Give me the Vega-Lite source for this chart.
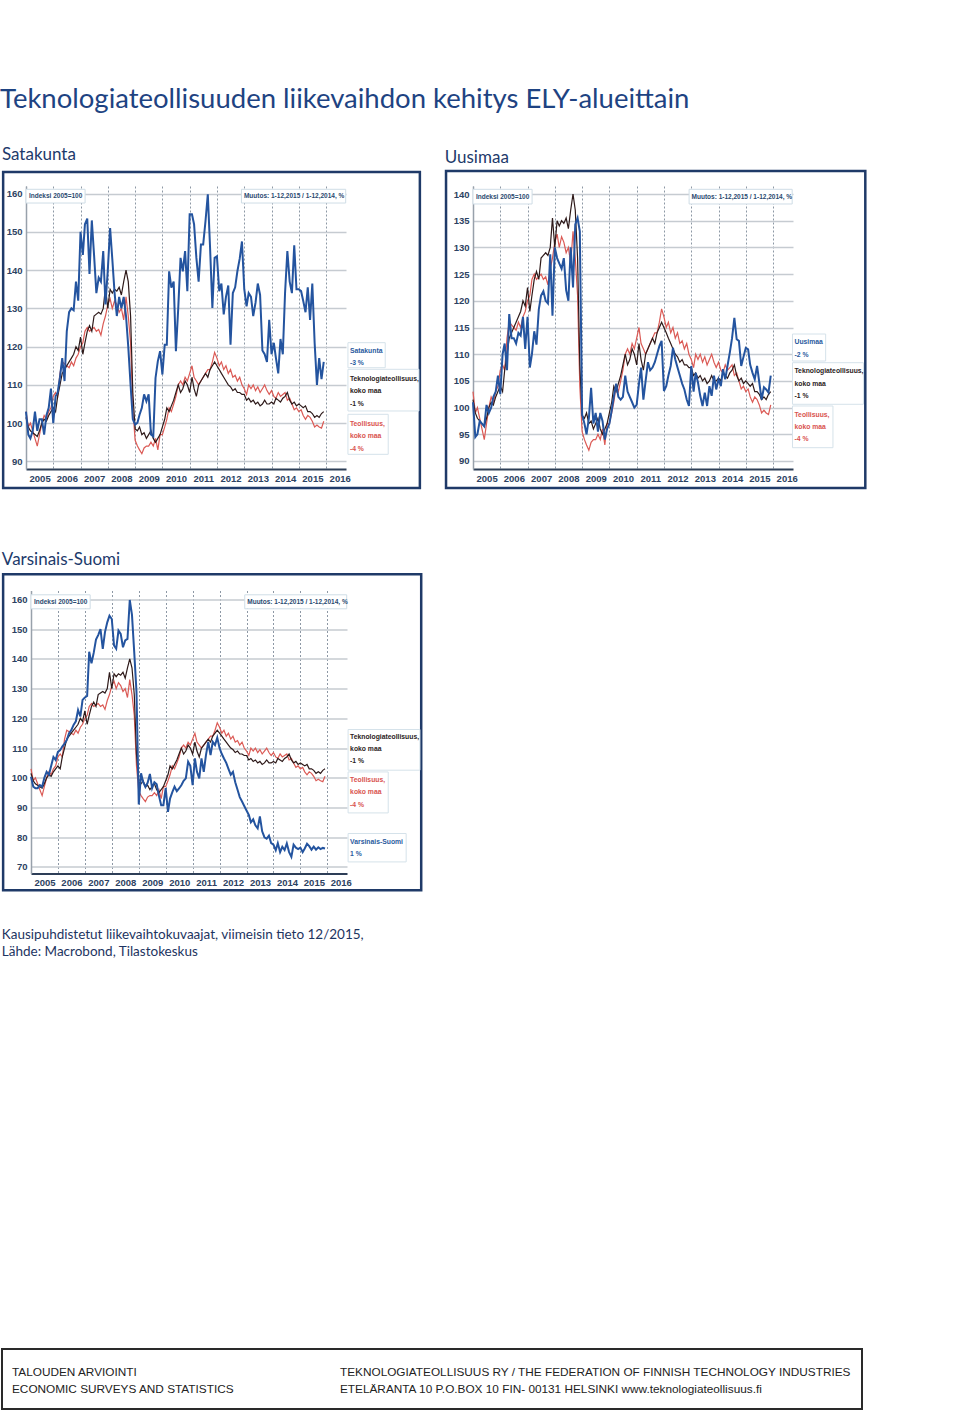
{
  "$schema": "https://vega.github.io/schema/vega-lite/v6.json",
  "background": "white",
  "padding": {"top": 86, "left": 0, "right": 0, "bottom": 0},
  "title": {"text": "Teknologiateollisuuden liikevaihdon kehitys ELY-alueittain", "anchor": "start", "font": "Lato", "fontSize": 27.5, "fontWeight": "normal", "color": "#1e4382", "baseline": "alphabetic", "offset": 10, "frame": "bounds"},
  "config": {
    "view": {"stroke": null},
    "axis": {"labelFont": "Liberation Sans", "labelFontSize": 9.5, "labelFontWeight": "bold", "labelColor": "#2c4262", "ticks": false, "labelPadding": 4, "grid": true, "labelOverlap": false},
    "axisX": {"gridDash": [2, 2], "gridColor": "#8d98a5", "gridWidth": 1, "domainColor": "#2d3e57", "domainWidth": 2, "labelFlush": false, "labelOverlap": false, "format": "%Y"},
    "axisY": {"gridColor": "#c6cbd1", "gridWidth": 1.5, "domainColor": "#98a1ab", "domainWidth": 1.5},
    "text": {"font": "Liberation Sans"}
  },
  "datasets": {
    "tek": [
      {"month":"2005-01","value":101.5},{"month":"2005-02","value":99},{"month":"2005-03","value":98},{"month":"2005-04","value":97.5},{"month":"2005-05","value":97},{"month":"2005-06","value":96.5},{"month":"2005-07","value":98},{"month":"2005-08","value":100},{"month":"2005-09","value":101},{"month":"2005-10","value":100.5},{"month":"2005-11","value":102},{"month":"2005-12","value":103},
      {"month":"2006-01","value":104},{"month":"2006-02","value":103},{"month":"2006-03","value":107},{"month":"2006-04","value":110},{"month":"2006-05","value":113},{"month":"2006-06","value":114},{"month":"2006-07","value":115},{"month":"2006-08","value":116},{"month":"2006-09","value":117},{"month":"2006-10","value":118},{"month":"2006-11","value":120},{"month":"2006-12","value":119},
      {"month":"2007-01","value":122.5},{"month":"2007-02","value":118},{"month":"2007-03","value":121},{"month":"2007-04","value":124},{"month":"2007-05","value":125.5},{"month":"2007-06","value":124},{"month":"2007-07","value":128},{"month":"2007-08","value":128.5},{"month":"2007-09","value":129},{"month":"2007-10","value":128.5},{"month":"2007-11","value":130},{"month":"2007-12","value":135.5},
      {"month":"2008-01","value":130},{"month":"2008-02","value":135},{"month":"2008-03","value":134},{"month":"2008-04","value":135},{"month":"2008-05","value":134.5},{"month":"2008-06","value":135.5},{"month":"2008-07","value":133.5},{"month":"2008-08","value":137},{"month":"2008-09","value":140},{"month":"2008-10","value":137},{"month":"2008-11","value":128},{"month":"2008-12","value":108},
      {"month":"2009-01","value":98.5},{"month":"2009-02","value":98},{"month":"2009-03","value":99},{"month":"2009-04","value":97},{"month":"2009-05","value":97.5},{"month":"2009-06","value":96},{"month":"2009-07","value":97},{"month":"2009-08","value":98},{"month":"2009-09","value":96},{"month":"2009-10","value":95},{"month":"2009-11","value":96},{"month":"2009-12","value":97},
      {"month":"2010-01","value":99},{"month":"2010-02","value":101},{"month":"2010-03","value":104},{"month":"2010-04","value":103},{"month":"2010-05","value":104.5},{"month":"2010-06","value":106},{"month":"2010-07","value":108},{"month":"2010-08","value":110},{"month":"2010-09","value":108},{"month":"2010-10","value":109},{"month":"2010-11","value":111},{"month":"2010-12","value":110},
      {"month":"2011-01","value":108},{"month":"2011-02","value":112},{"month":"2011-03","value":109},{"month":"2011-04","value":107},{"month":"2011-05","value":110},{"month":"2011-06","value":111},{"month":"2011-07","value":112},{"month":"2011-08","value":113},{"month":"2011-09","value":112},{"month":"2011-10","value":114},{"month":"2011-11","value":115},{"month":"2011-12","value":116},
      {"month":"2012-01","value":115},{"month":"2012-02","value":114},{"month":"2012-03","value":113},{"month":"2012-04","value":112},{"month":"2012-05","value":111},{"month":"2012-06","value":110},{"month":"2012-07","value":109.5},{"month":"2012-08","value":108.5},{"month":"2012-09","value":109},{"month":"2012-10","value":108},{"month":"2012-11","value":108},{"month":"2012-12","value":107.5},
      {"month":"2013-01","value":107.5},{"month":"2013-02","value":106},{"month":"2013-03","value":106.5},{"month":"2013-04","value":105.5},{"month":"2013-05","value":106},{"month":"2013-06","value":105},{"month":"2013-07","value":105.5},{"month":"2013-08","value":104.5},{"month":"2013-09","value":105},{"month":"2013-10","value":106},{"month":"2013-11","value":105},{"month":"2013-12","value":105},
      {"month":"2014-01","value":105.5},{"month":"2014-02","value":105},{"month":"2014-03","value":106.5},{"month":"2014-04","value":106},{"month":"2014-05","value":105.5},{"month":"2014-06","value":106.5},{"month":"2014-07","value":107},{"month":"2014-08","value":108},{"month":"2014-09","value":106},{"month":"2014-10","value":105},{"month":"2014-11","value":105.5},{"month":"2014-12","value":104.5},
      {"month":"2015-01","value":105},{"month":"2015-02","value":104.5},{"month":"2015-03","value":104},{"month":"2015-04","value":104.5},{"month":"2015-05","value":103},{"month":"2015-06","value":103},{"month":"2015-07","value":102.5},{"month":"2015-08","value":101.5},{"month":"2015-09","value":102},{"month":"2015-10","value":101.5},{"month":"2015-11","value":102.5},{"month":"2015-12","value":103}
    ],
    "teo": [
      {"month":"2005-01","value":103},{"month":"2005-02","value":99},{"month":"2005-03","value":100},{"month":"2005-04","value":98},{"month":"2005-05","value":96},{"month":"2005-06","value":94},{"month":"2005-07","value":97},{"month":"2005-08","value":100},{"month":"2005-09","value":102},{"month":"2005-10","value":101},{"month":"2005-11","value":103},{"month":"2005-12","value":104},
      {"month":"2006-01","value":107},{"month":"2006-02","value":108},{"month":"2006-03","value":107},{"month":"2006-04","value":113},{"month":"2006-05","value":116},{"month":"2006-06","value":115.5},{"month":"2006-07","value":115},{"month":"2006-08","value":114.5},{"month":"2006-09","value":116},{"month":"2006-10","value":115},{"month":"2006-11","value":117},{"month":"2006-12","value":118},
      {"month":"2007-01","value":120},{"month":"2007-02","value":121},{"month":"2007-03","value":124},{"month":"2007-04","value":125},{"month":"2007-05","value":124},{"month":"2007-06","value":124.5},{"month":"2007-07","value":125},{"month":"2007-08","value":124},{"month":"2007-09","value":124.5},{"month":"2007-10","value":123},{"month":"2007-11","value":126},{"month":"2007-12","value":128},
      {"month":"2008-01","value":131},{"month":"2008-02","value":132.5},{"month":"2008-03","value":130},{"month":"2008-04","value":132},{"month":"2008-05","value":131},{"month":"2008-06","value":129},{"month":"2008-07","value":130},{"month":"2008-08","value":127},{"month":"2008-09","value":133},{"month":"2008-10","value":128},{"month":"2008-11","value":121},{"month":"2008-12","value":104},
      {"month":"2009-01","value":95.5},{"month":"2009-02","value":94},{"month":"2009-03","value":93},{"month":"2009-04","value":92},{"month":"2009-05","value":93.5},{"month":"2009-06","value":94},{"month":"2009-07","value":94},{"month":"2009-08","value":95},{"month":"2009-09","value":94},{"month":"2009-10","value":96},{"month":"2009-11","value":93},{"month":"2009-12","value":97},
      {"month":"2010-01","value":97},{"month":"2010-02","value":99},{"month":"2010-03","value":101},{"month":"2010-04","value":104},{"month":"2010-05","value":103},{"month":"2010-06","value":105},{"month":"2010-07","value":107},{"month":"2010-08","value":110},{"month":"2010-09","value":111},{"month":"2010-10","value":110},{"month":"2010-11","value":112},{"month":"2010-12","value":111},
      {"month":"2011-01","value":113},{"month":"2011-02","value":115},{"month":"2011-03","value":112},{"month":"2011-04","value":111},{"month":"2011-05","value":110},{"month":"2011-06","value":111},{"month":"2011-07","value":112},{"month":"2011-08","value":113},{"month":"2011-09","value":114},{"month":"2011-10","value":114},{"month":"2011-11","value":116},{"month":"2011-12","value":118.5},
      {"month":"2012-01","value":117},{"month":"2012-02","value":115},{"month":"2012-03","value":116},{"month":"2012-04","value":114},{"month":"2012-05","value":115},{"month":"2012-06","value":113},{"month":"2012-07","value":114},{"month":"2012-08","value":112},{"month":"2012-09","value":112.5},{"month":"2012-10","value":111},{"month":"2012-11","value":112},{"month":"2012-12","value":110},
      {"month":"2013-01","value":109},{"month":"2013-02","value":107.5},{"month":"2013-03","value":110},{"month":"2013-04","value":109},{"month":"2013-05","value":110},{"month":"2013-06","value":108.5},{"month":"2013-07","value":109.5},{"month":"2013-08","value":108},{"month":"2013-09","value":109},{"month":"2013-10","value":110},{"month":"2013-11","value":108.5},{"month":"2013-12","value":107.5},
      {"month":"2014-01","value":108.5},{"month":"2014-02","value":107},{"month":"2014-03","value":106.5},{"month":"2014-04","value":108},{"month":"2014-05","value":107},{"month":"2014-06","value":107.5},{"month":"2014-07","value":108},{"month":"2014-08","value":106},{"month":"2014-09","value":106.5},{"month":"2014-10","value":105},{"month":"2014-11","value":103.5},{"month":"2014-12","value":104},
      {"month":"2015-01","value":103},{"month":"2015-02","value":103.5},{"month":"2015-03","value":102},{"month":"2015-04","value":101},{"month":"2015-05","value":102},{"month":"2015-06","value":101.5},{"month":"2015-07","value":100.5},{"month":"2015-08","value":99},{"month":"2015-09","value":99.5},{"month":"2015-10","value":99},{"month":"2015-11","value":98.7},{"month":"2015-12","value":100.5}
    ],
    "sat": [
      {"month":"2005-01","value":103},{"month":"2005-02","value":97},{"month":"2005-03","value":96},{"month":"2005-04","value":98},{"month":"2005-05","value":103},{"month":"2005-06","value":98},{"month":"2005-07","value":101},{"month":"2005-08","value":101},{"month":"2005-09","value":97},{"month":"2005-10","value":102},{"month":"2005-11","value":104},{"month":"2005-12","value":109},
      {"month":"2006-01","value":100},{"month":"2006-02","value":107},{"month":"2006-03","value":108},{"month":"2006-04","value":112},{"month":"2006-05","value":117},{"month":"2006-06","value":111},{"month":"2006-07","value":124},{"month":"2006-08","value":129},{"month":"2006-09","value":130},{"month":"2006-10","value":129.5},{"month":"2006-11","value":137},{"month":"2006-12","value":132},
      {"month":"2007-01","value":150},{"month":"2007-02","value":144},{"month":"2007-03","value":152},{"month":"2007-04","value":153.5},{"month":"2007-05","value":139},{"month":"2007-06","value":153},{"month":"2007-07","value":144},{"month":"2007-08","value":134},{"month":"2007-09","value":138},{"month":"2007-10","value":137},{"month":"2007-11","value":145},{"month":"2007-12","value":131},
      {"month":"2008-01","value":140},{"month":"2008-02","value":151},{"month":"2008-03","value":143},{"month":"2008-04","value":134},{"month":"2008-05","value":128},{"month":"2008-06","value":133},{"month":"2008-07","value":130},{"month":"2008-08","value":133},{"month":"2008-09","value":128},{"month":"2008-10","value":120},{"month":"2008-11","value":110},{"month":"2008-12","value":101},
      {"month":"2009-01","value":99.6},{"month":"2009-02","value":100.1},{"month":"2009-03","value":102.2},{"month":"2009-04","value":104},{"month":"2009-05","value":107.5},{"month":"2009-06","value":105.7},{"month":"2009-07","value":107.5},{"month":"2009-08","value":97},{"month":"2009-09","value":96.5},{"month":"2009-10","value":111.8},{"month":"2009-11","value":116.2},{"month":"2009-12","value":118.8},
      {"month":"2010-01","value":112.7},{"month":"2010-02","value":120.5},{"month":"2010-03","value":120.5},{"month":"2010-04","value":139.7},{"month":"2010-05","value":135.4},{"month":"2010-06","value":137},{"month":"2010-07","value":118.8},{"month":"2010-08","value":130},{"month":"2010-09","value":143.2},{"month":"2010-10","value":139.7},{"month":"2010-11","value":145},{"month":"2010-12","value":134.5},
      {"month":"2011-01","value":154.6},{"month":"2011-02","value":154.6},{"month":"2011-03","value":152},{"month":"2011-04","value":143.2},{"month":"2011-05","value":137},{"month":"2011-06","value":146.7},{"month":"2011-07","value":146.7},{"month":"2011-08","value":152.8},{"month":"2011-09","value":159.8},{"month":"2011-10","value":146},{"month":"2011-11","value":130.1},{"month":"2011-12","value":143.2},
      {"month":"2012-01","value":143.6},{"month":"2012-02","value":134.5},{"month":"2012-03","value":136.5},{"month":"2012-04","value":128.4},{"month":"2012-05","value":133},{"month":"2012-06","value":136},{"month":"2012-07","value":120.5},{"month":"2012-08","value":134},{"month":"2012-09","value":135.5},{"month":"2012-10","value":139.7},{"month":"2012-11","value":143},{"month":"2012-12","value":147.5},
      {"month":"2013-01","value":135},{"month":"2013-02","value":130.5},{"month":"2013-03","value":134},{"month":"2013-04","value":133},{"month":"2013-05","value":128},{"month":"2013-06","value":131.5},{"month":"2013-07","value":136.5},{"month":"2013-08","value":133.5},{"month":"2013-09","value":119},{"month":"2013-10","value":118},{"month":"2013-11","value":116},{"month":"2013-12","value":127},
      {"month":"2014-01","value":118},{"month":"2014-02","value":121},{"month":"2014-03","value":117},{"month":"2014-04","value":113},{"month":"2014-05","value":122},{"month":"2014-06","value":118},{"month":"2014-07","value":134},{"month":"2014-08","value":145},{"month":"2014-09","value":137},{"month":"2014-10","value":134},{"month":"2014-11","value":146.5},{"month":"2014-12","value":135},
      {"month":"2015-01","value":135},{"month":"2015-02","value":134.5},{"month":"2015-03","value":132},{"month":"2015-04","value":129},{"month":"2015-05","value":135.5},{"month":"2015-06","value":127},{"month":"2015-07","value":136.5},{"month":"2015-08","value":121},{"month":"2015-09","value":110},{"month":"2015-10","value":117},{"month":"2015-11","value":111.5},{"month":"2015-12","value":116}
    ],
    "uus": [
      {"month":"2005-01","value":101},{"month":"2005-02","value":94.5},{"month":"2005-03","value":95},{"month":"2005-04","value":97.5},{"month":"2005-05","value":97},{"month":"2005-06","value":96.5},{"month":"2005-07","value":100.5},{"month":"2005-08","value":99},{"month":"2005-09","value":100},{"month":"2005-10","value":102},{"month":"2005-11","value":103},{"month":"2005-12","value":106},
      {"month":"2006-01","value":102.5},{"month":"2006-02","value":110},{"month":"2006-03","value":112},{"month":"2006-04","value":107},{"month":"2006-05","value":117.5},{"month":"2006-06","value":113},{"month":"2006-07","value":113},{"month":"2006-08","value":112},{"month":"2006-09","value":114},{"month":"2006-10","value":113.5},{"month":"2006-11","value":117},{"month":"2006-12","value":111},
      {"month":"2007-01","value":117},{"month":"2007-02","value":107.5},{"month":"2007-03","value":110},{"month":"2007-04","value":114.3},{"month":"2007-05","value":111.8},{"month":"2007-06","value":118.4},{"month":"2007-07","value":121},{"month":"2007-08","value":121.8},{"month":"2007-09","value":120},{"month":"2007-10","value":119.5},{"month":"2007-11","value":128.7},{"month":"2007-12","value":117.2},
      {"month":"2008-01","value":130},{"month":"2008-02","value":128},{"month":"2008-03","value":127},{"month":"2008-04","value":126},{"month":"2008-05","value":128},{"month":"2008-06","value":122},{"month":"2008-07","value":120},{"month":"2008-08","value":130},{"month":"2008-09","value":122.5},{"month":"2008-10","value":134.3},{"month":"2008-11","value":135.5},{"month":"2008-12","value":133},
      {"month":"2009-01","value":98.7},{"month":"2009-02","value":97},{"month":"2009-03","value":95},{"month":"2009-04","value":98},{"month":"2009-05","value":103.7},{"month":"2009-06","value":97},{"month":"2009-07","value":99},{"month":"2009-08","value":95.5},{"month":"2009-09","value":99},{"month":"2009-10","value":97.5},{"month":"2009-11","value":94},{"month":"2009-12","value":96},
      {"month":"2010-01","value":97},{"month":"2010-02","value":99.5},{"month":"2010-03","value":102},{"month":"2010-04","value":104.5},{"month":"2010-05","value":102},{"month":"2010-06","value":101.5},{"month":"2010-07","value":102},{"month":"2010-08","value":106},{"month":"2010-09","value":103},{"month":"2010-10","value":102},{"month":"2010-11","value":101},{"month":"2010-12","value":100},
      {"month":"2011-01","value":100.5},{"month":"2011-02","value":104.5},{"month":"2011-03","value":107.5},{"month":"2011-04","value":101.5},{"month":"2011-05","value":105},{"month":"2011-06","value":108.5},{"month":"2011-07","value":107},{"month":"2011-08","value":107.5},{"month":"2011-09","value":108.5},{"month":"2011-10","value":110},{"month":"2011-11","value":111.5},{"month":"2011-12","value":112.5},
      {"month":"2012-01","value":103.1},{"month":"2012-02","value":104},{"month":"2012-03","value":106},{"month":"2012-04","value":107.8},{"month":"2012-05","value":111.2},{"month":"2012-06","value":109},{"month":"2012-07","value":107.5},{"month":"2012-08","value":106},{"month":"2012-09","value":104.5},{"month":"2012-10","value":103.4},{"month":"2012-11","value":101.5},{"month":"2012-12","value":100.3},
      {"month":"2013-01","value":107.8},{"month":"2013-02","value":103},{"month":"2013-03","value":106.5},{"month":"2013-04","value":104.7},{"month":"2013-05","value":102.2},{"month":"2013-06","value":100.3},{"month":"2013-07","value":102.8},{"month":"2013-08","value":100.3},{"month":"2013-09","value":104},{"month":"2013-10","value":102.2},{"month":"2013-11","value":106},{"month":"2013-12","value":103.4},
      {"month":"2014-01","value":105.3},{"month":"2014-02","value":104},{"month":"2014-03","value":107.2},{"month":"2014-04","value":105.3},{"month":"2014-05","value":107.8},{"month":"2014-06","value":110.3},{"month":"2014-07","value":113},{"month":"2014-08","value":116.8},{"month":"2014-09","value":112.8},{"month":"2014-10","value":112.5},{"month":"2014-11","value":107.8},{"month":"2014-12","value":109.5},
      {"month":"2015-01","value":111.2},{"month":"2015-02","value":110.9},{"month":"2015-03","value":108},{"month":"2015-04","value":106.5},{"month":"2015-05","value":105.3},{"month":"2015-06","value":107.8},{"month":"2015-07","value":104.7},{"month":"2015-08","value":101.5},{"month":"2015-09","value":103.8},{"month":"2015-10","value":103.4},{"month":"2015-11","value":102.8},{"month":"2015-12","value":106}
    ],
    "vs": [
      {"month":"2005-01","value":100.3},{"month":"2005-02","value":97},{"month":"2005-03","value":96.5},{"month":"2005-04","value":96.5},{"month":"2005-05","value":97.5},{"month":"2005-06","value":97},{"month":"2005-07","value":100},{"month":"2005-08","value":102},{"month":"2005-09","value":101},{"month":"2005-10","value":104},{"month":"2005-11","value":107},{"month":"2005-12","value":106},
      {"month":"2006-01","value":108.7},{"month":"2006-02","value":109.3},{"month":"2006-03","value":110.5},{"month":"2006-04","value":111.5},{"month":"2006-05","value":112.7},{"month":"2006-06","value":115},{"month":"2006-07","value":116},{"month":"2006-08","value":117.8},{"month":"2006-09","value":119},{"month":"2006-10","value":122.8},{"month":"2006-11","value":120.6},{"month":"2006-12","value":126.2},
      {"month":"2007-01","value":127},{"month":"2007-02","value":127.5},{"month":"2007-03","value":142.4},{"month":"2007-04","value":138.5},{"month":"2007-05","value":142},{"month":"2007-06","value":146.5},{"month":"2007-07","value":148},{"month":"2007-08","value":150},{"month":"2007-09","value":143.4},{"month":"2007-10","value":149},{"month":"2007-11","value":152.3},{"month":"2007-12","value":154.5},
      {"month":"2008-01","value":153.4},{"month":"2008-02","value":144.5},{"month":"2008-03","value":143.4},{"month":"2008-04","value":149.5},{"month":"2008-05","value":148.4},{"month":"2008-06","value":143.9},{"month":"2008-07","value":146.2},{"month":"2008-08","value":146.7},{"month":"2008-09","value":159.8},{"month":"2008-10","value":154.8},{"month":"2008-11","value":142},{"month":"2008-12","value":129},
      {"month":"2009-01","value":91},{"month":"2009-02","value":101.5},{"month":"2009-03","value":98.6},{"month":"2009-04","value":96.9},{"month":"2009-05","value":98.3},{"month":"2009-06","value":101.3},{"month":"2009-07","value":96.5},{"month":"2009-08","value":98.5},{"month":"2009-09","value":97.8},{"month":"2009-10","value":94},{"month":"2009-11","value":90.8},{"month":"2009-12","value":90.8},
      {"month":"2010-01","value":96.5},{"month":"2010-02","value":88.5},{"month":"2010-03","value":93},{"month":"2010-04","value":95.2},{"month":"2010-05","value":97},{"month":"2010-06","value":95.5},{"month":"2010-07","value":96.4},{"month":"2010-08","value":97.5},{"month":"2010-09","value":99},{"month":"2010-10","value":99.8},{"month":"2010-11","value":105.4},{"month":"2010-12","value":104},
      {"month":"2011-01","value":97.5},{"month":"2011-02","value":106.5},{"month":"2011-03","value":102},{"month":"2011-04","value":99.8},{"month":"2011-05","value":106.5},{"month":"2011-06","value":102},{"month":"2011-07","value":107.6},{"month":"2011-08","value":112.1},{"month":"2011-09","value":107.6},{"month":"2011-10","value":112.1},{"month":"2011-11","value":111},{"month":"2011-12","value":113.5},
      {"month":"2012-01","value":110},{"month":"2012-02","value":108},{"month":"2012-03","value":106.5},{"month":"2012-04","value":105},{"month":"2012-05","value":103},{"month":"2012-06","value":101},{"month":"2012-07","value":102},{"month":"2012-08","value":98.5},{"month":"2012-09","value":96},{"month":"2012-10","value":93.5},{"month":"2012-11","value":92},{"month":"2012-12","value":90.5},
      {"month":"2013-01","value":89},{"month":"2013-02","value":87.5},{"month":"2013-03","value":85},{"month":"2013-04","value":86},{"month":"2013-05","value":84},{"month":"2013-06","value":83},{"month":"2013-07","value":87},{"month":"2013-08","value":82},{"month":"2013-09","value":80},{"month":"2013-10","value":79.5},{"month":"2013-11","value":80.5},{"month":"2013-12","value":78},
      {"month":"2014-01","value":77.5},{"month":"2014-02","value":75.6},{"month":"2014-03","value":78},{"month":"2014-04","value":75},{"month":"2014-05","value":76.8},{"month":"2014-06","value":75.7},{"month":"2014-07","value":77.9},{"month":"2014-08","value":75},{"month":"2014-09","value":73.4},{"month":"2014-10","value":77.5},{"month":"2014-11","value":76.5},{"month":"2014-12","value":76},
      {"month":"2015-01","value":76.5},{"month":"2015-02","value":75},{"month":"2015-03","value":76.2},{"month":"2015-04","value":77.8},{"month":"2015-05","value":77},{"month":"2015-06","value":75.8},{"month":"2015-07","value":76.8},{"month":"2015-08","value":75.8},{"month":"2015-09","value":76.6},{"month":"2015-10","value":76},{"month":"2015-11","value":76.4},{"month":"2015-12","value":76.2}
    ]
  },
  "spacing": 389,
  "vconcat": [
    {
      "spacing": 60.5,
      "vconcat": [
        {
          "spacing": 0,
          "hconcat": [
            {"width": 1, "height": 1, "data": {"values": []}, "mark": {"type": "point"}},
            {
              "spacing": 22,
              "hconcat": [
                {
                  "width": 320, "height": 283,
                  "title": {"text": "Satakunta", "anchor": "start", "font": "Lato", "fontSize": 17, "fontWeight": "normal", "color": "#1d3a6b", "baseline": "alphabetic", "offset": -6},
                  "layer": [
                    {"data": {"values": [{}]}, "mark": {"type": "rect", "filled": false, "stroke": "#1f3a68", "strokeWidth": 2.5},
                     "encoding": {"x": {"datum": {"year": 2004, "month": 3, "date": 1}, "type": "temporal", "title": null,
                                        "scale": {"domain": [{"year": 2005, "month": 1, "date": 1}, {"year": 2016, "month": 9, "date": 24}]}},
                                  "x2": {"datum": {"year": 2019, "month": 6, "date": 10}},
                                  "y": {"datum": 165.67, "type": "quantitative", "title": null, "scale": {"domain": [88, 162], "nice": false, "zero": false}},
                                  "y2": {"datum": 83.03}}},
                    {"data": {"values": [{"label": "Indeksi 2005=100"}]}, "layer": [
                      {"mark": {"type": "rect", "fill": "white", "stroke": "#cfdde6", "strokeWidth": 1},
                       "encoding": {"x": {"datum": {"year": 2005, "month": 1, "date": 1}, "type": "temporal", "title": null}, "x2": {"datum": {"year": 2007, "month": 3, "date": 3}}, "y": {"datum": 161.14, "type": "quantitative", "title": null}, "y2": {"datum": 157.55}}},
                      {"mark": {"type": "text", "align": "left", "baseline": "middle", "dx": 3, "fontSize": 6.5, "fontWeight": "bold", "color": "#2b4a70"},
                       "encoding": {"x": {"datum": {"year": 2005, "month": 1, "date": 1}, "type": "temporal", "title": null}, "y": {"datum": 159.35, "type": "quantitative", "title": null}, "text": {"field": "label"}}}
                    ]},
                    {"data": {"values": [{"label": "Muutos: 1-12,2015 / 1-12,2014, %"}]}, "layer": [
                      {"mark": {"type": "rect", "fill": "white", "stroke": "#cfdde6", "strokeWidth": 1},
                       "encoding": {"x": {"datum": {"year": 2012, "month": 11, "date": 24}, "type": "temporal", "title": null}, "x2": {"datum": {"year": 2016, "month": 9, "date": 20}}, "y": {"datum": 161.14, "type": "quantitative", "title": null}, "y2": {"datum": 157.55}}},
                      {"mark": {"type": "text", "align": "left", "baseline": "middle", "dx": 2.5, "fontSize": 6.5, "fontWeight": "bold", "color": "#2b4a70"},
                       "encoding": {"x": {"datum": {"year": 2012, "month": 11, "date": 24}, "type": "temporal", "title": null}, "y": {"datum": 159.35, "type": "quantitative", "title": null}, "text": {"field": "label"}}}
                    ]},
                    {"data": {"values": [{"label": "Satakunta\n-3 %"}]}, "layer": [
                      {"mark": {"type": "rect", "fill": "white", "stroke": "#d5e2ea", "strokeWidth": 1},
                       "encoding": {"x": {"datum": {"year": 2016, "month": 10, "date": 20}, "type": "temporal", "title": null}, "x2": {"datum": {"year": 2018, "month": 3, "date": 3}}, "y": {"datum": 121.03, "type": "quantitative", "title": null}, "y2": {"datum": 114.48}}},
                      {"mark": {"type": "text", "align": "left", "baseline": "alphabetic", "dx": 2, "lineBreak": "\n", "lineHeight": 12.3, "fontSize": 6.8, "fontWeight": "bold", "color": "#2a5a9e"},
                       "encoding": {"x": {"datum": {"year": 2016, "month": 10, "date": 20}, "type": "temporal", "title": null}, "y": {"datum": 118.41, "type": "quantitative", "title": null}, "text": {"field": "label"}}}
                    ]},
                    {"data": {"values": [{"label": "Teknologiateollisuus,\nkoko maa\n-1 %"}]}, "layer": [
                      {"mark": {"type": "rect", "fill": "white", "stroke": "#d5e2ea", "strokeWidth": 1},
                       "encoding": {"x": {"datum": {"year": 2016, "month": 10, "date": 20}, "type": "temporal", "title": null}, "x2": {"datum": {"year": 2019, "month": 5, "date": 28}}, "y": {"datum": 114.07, "type": "quantitative", "title": null}, "y2": {"datum": 103.17}}},
                      {"mark": {"type": "text", "align": "left", "baseline": "alphabetic", "dx": 2, "lineBreak": "\n", "lineHeight": 12.3, "fontSize": 6.8, "fontWeight": "bold", "color": "#2b1c1c"},
                       "encoding": {"x": {"datum": {"year": 2016, "month": 10, "date": 20}, "type": "temporal", "title": null}, "y": {"datum": 111.01, "type": "quantitative", "title": null}, "text": {"field": "label"}}}
                    ]},
                    {"data": {"values": [{"label": "Teollisuus,\nkoko maa\n-4 %"}]}, "layer": [
                      {"mark": {"type": "rect", "fill": "white", "stroke": "#d5e2ea", "strokeWidth": 1},
                       "encoding": {"x": {"datum": {"year": 2016, "month": 10, "date": 20}, "type": "temporal", "title": null}, "x2": {"datum": {"year": 2018, "month": 4, "date": 12}}, "y": {"datum": 102.3, "type": "quantitative", "title": null}, "y2": {"datum": 91.84}}},
                      {"mark": {"type": "text", "align": "left", "baseline": "alphabetic", "dx": 2, "lineBreak": "\n", "lineHeight": 12.3, "fontSize": 6.8, "fontWeight": "bold", "color": "#d9534f"},
                       "encoding": {"x": {"datum": {"year": 2016, "month": 10, "date": 20}, "type": "temporal", "title": null}, "y": {"datum": 99.24, "type": "quantitative", "title": null}, "text": {"field": "label"}}}
                    ]},
                    {"data": {"name": "teo"}, "mark": {"type": "line", "color": "#db5a55", "strokeWidth": 1.2},
                     "encoding": {"x": {"field": "month", "type": "temporal", "title": null, "axis": {"values": [{"year":2005,"month":1,"date":1},{"year":2006,"month":1,"date":1},{"year":2007,"month":1,"date":1},{"year":2008,"month":1,"date":1},{"year":2009,"month":1,"date":1},{"year":2010,"month":1,"date":1},{"year":2011,"month":1,"date":1},{"year":2012,"month":1,"date":1},{"year":2013,"month":1,"date":1},{"year":2014,"month":1,"date":1},{"year":2015,"month":1,"date":1},{"year":2016,"month":1,"date":1}], "tickCount": {"interval": "year", "step": 1}, "labelOffset": 13.6, "labelOverlap": false}},
                                  "y": {"field": "value", "type": "quantitative", "title": null, "axis": {"values": [90, 100, 110, 120, 130, 140, 150, 160], "tickCount": 8, "labelOverlap": false}}}},
                    {"data": {"name": "tek"}, "mark": {"type": "line", "color": "#2e1a1a", "strokeWidth": 1.2},
                     "encoding": {"x": {"field": "month", "type": "temporal", "title": null, "axis": {"values": [{"year":2005,"month":1,"date":1},{"year":2006,"month":1,"date":1},{"year":2007,"month":1,"date":1},{"year":2008,"month":1,"date":1},{"year":2009,"month":1,"date":1},{"year":2010,"month":1,"date":1},{"year":2011,"month":1,"date":1},{"year":2012,"month":1,"date":1},{"year":2013,"month":1,"date":1},{"year":2014,"month":1,"date":1},{"year":2015,"month":1,"date":1},{"year":2016,"month":1,"date":1}], "tickCount": {"interval": "year", "step": 1}, "labelOffset": 13.6, "labelOverlap": false}},
                                  "y": {"field": "value", "type": "quantitative", "title": null, "axis": {"values": [90, 100, 110, 120, 130, 140, 150, 160], "tickCount": 8, "labelOverlap": false}}}},
                    {"data": {"name": "sat"}, "mark": {"type": "line", "color": "#24549f", "strokeWidth": 2},
                     "encoding": {"x": {"field": "month", "type": "temporal", "title": null, "axis": {"values": [{"year":2005,"month":1,"date":1},{"year":2006,"month":1,"date":1},{"year":2007,"month":1,"date":1},{"year":2008,"month":1,"date":1},{"year":2009,"month":1,"date":1},{"year":2010,"month":1,"date":1},{"year":2011,"month":1,"date":1},{"year":2012,"month":1,"date":1},{"year":2013,"month":1,"date":1},{"year":2014,"month":1,"date":1},{"year":2015,"month":1,"date":1},{"year":2016,"month":1,"date":1}], "tickCount": {"interval": "year", "step": 1}, "labelOffset": 13.6, "labelOverlap": false}},
                                  "y": {"field": "value", "type": "quantitative", "title": null, "axis": {"values": [90, 100, 110, 120, 130, 140, 150, 160], "tickCount": 8, "labelOverlap": false}}}}
                  ]
                },
                {
                  "width": 320, "height": 283,
                  "title": {"text": "Uusimaa", "anchor": "start", "font": "Lato", "fontSize": 17, "fontWeight": "normal", "color": "#1d3a6b", "baseline": "alphabetic", "offset": -10},
                  "layer": [
                    {"data": {"values": [{}]}, "mark": {"type": "rect", "filled": false, "stroke": "#1f3a68", "strokeWidth": 2.5},
                     "encoding": {"x": {"datum": {"year": 2004, "month": 1, "date": 6}, "type": "temporal", "title": null,
                                        "scale": {"domain": [{"year": 2005, "month": 1, "date": 1}, {"year": 2016, "month": 9, "date": 24}]}},
                                  "x2": {"datum": {"year": 2019, "month": 5, "date": 20}},
                                  "y": {"datum": 144.3, "type": "quantitative", "title": null, "scale": {"domain": [88.5, 141.5], "nice": false, "zero": false}},
                                  "y2": {"datum": 84.94}}},
                    {"data": {"values": [{"label": "Indeksi 2005=100"}]}, "layer": [
                      {"mark": {"type": "rect", "fill": "white", "stroke": "#cfdde6", "strokeWidth": 1},
                       "encoding": {"x": {"datum": {"year": 2005, "month": 1, "date": 1}, "type": "temporal", "title": null}, "x2": {"datum": {"year": 2007, "month": 3, "date": 3}}, "y": {"datum": 140.88, "type": "quantitative", "title": null}, "y2": {"datum": 138.13}}},
                      {"mark": {"type": "text", "align": "left", "baseline": "middle", "dx": 3, "fontSize": 6.5, "fontWeight": "bold", "color": "#2b4a70"},
                       "encoding": {"x": {"datum": {"year": 2005, "month": 1, "date": 1}, "type": "temporal", "title": null}, "y": {"datum": 139.5, "type": "quantitative", "title": null}, "text": {"field": "label"}}}
                    ]},
                    {"data": {"values": [{"label": "Muutos: 1-12,2015 / 1-12,2014, %"}]}, "layer": [
                      {"mark": {"type": "rect", "fill": "white", "stroke": "#cfdde6", "strokeWidth": 1},
                       "encoding": {"x": {"datum": {"year": 2012, "month": 12, "date": 3}, "type": "temporal", "title": null}, "x2": {"datum": {"year": 2016, "month": 9, "date": 13}}, "y": {"datum": 140.88, "type": "quantitative", "title": null}, "y2": {"datum": 138.13}}},
                      {"mark": {"type": "text", "align": "left", "baseline": "middle", "dx": 2.5, "fontSize": 6.5, "fontWeight": "bold", "color": "#2b4a70"},
                       "encoding": {"x": {"datum": {"year": 2012, "month": 12, "date": 3}, "type": "temporal", "title": null}, "y": {"datum": 139.5, "type": "quantitative", "title": null}, "text": {"field": "label"}}}
                    ]},
                    {"data": {"values": [{"label": "Uusimaa\n-2 %"}]}, "layer": [
                      {"mark": {"type": "rect", "fill": "white", "stroke": "#d5e2ea", "strokeWidth": 1},
                       "encoding": {"x": {"datum": {"year": 2016, "month": 9, "date": 17}, "type": "temporal", "title": null}, "x2": {"datum": {"year": 2017, "month": 12, "date": 5}}, "y": {"datum": 113.78, "type": "quantitative", "title": null}, "y2": {"datum": 108.72}}},
                      {"mark": {"type": "text", "align": "left", "baseline": "alphabetic", "dx": 2, "lineBreak": "\n", "lineHeight": 12.3, "fontSize": 6.8, "fontWeight": "bold", "color": "#2a5a9e"},
                       "encoding": {"x": {"datum": {"year": 2016, "month": 9, "date": 17}, "type": "temporal", "title": null}, "y": {"datum": 111.85, "type": "quantitative", "title": null}, "text": {"field": "label"}}}
                    ]},
                    {"data": {"values": [{"label": "Teknologiateollisuus,\nkoko maa\n-1 %"}]}, "layer": [
                      {"mark": {"type": "rect", "fill": "white", "stroke": "#d5e2ea", "strokeWidth": 1},
                       "encoding": {"x": {"datum": {"year": 2016, "month": 9, "date": 17}, "type": "temporal", "title": null}, "x2": {"datum": {"year": 2019, "month": 4, "date": 25}}, "y": {"datum": 108.41, "type": "quantitative", "title": null}, "y2": {"datum": 100.62}}},
                      {"mark": {"type": "text", "align": "left", "baseline": "alphabetic", "dx": 2, "lineBreak": "\n", "lineHeight": 12.3, "fontSize": 6.8, "fontWeight": "bold", "color": "#2b1c1c"},
                       "encoding": {"x": {"datum": {"year": 2016, "month": 9, "date": 17}, "type": "temporal", "title": null}, "y": {"datum": 106.42, "type": "quantitative", "title": null}, "text": {"field": "label"}}}
                    ]},
                    {"data": {"values": [{"label": "Teollisuus,\nkoko maa\n-4 %"}]}, "layer": [
                      {"mark": {"type": "rect", "fill": "white", "stroke": "#d5e2ea", "strokeWidth": 1},
                       "encoding": {"x": {"datum": {"year": 2016, "month": 9, "date": 17}, "type": "temporal", "title": null}, "x2": {"datum": {"year": 2018, "month": 3, "date": 13}}, "y": {"datum": 100.3, "type": "quantitative", "title": null}, "y2": {"datum": 92.49}}},
                      {"mark": {"type": "text", "align": "left", "baseline": "alphabetic", "dx": 2, "lineBreak": "\n", "lineHeight": 12.3, "fontSize": 6.8, "fontWeight": "bold", "color": "#d9534f"},
                       "encoding": {"x": {"datum": {"year": 2016, "month": 9, "date": 17}, "type": "temporal", "title": null}, "y": {"datum": 98.29, "type": "quantitative", "title": null}, "text": {"field": "label"}}}
                    ]},
                    {"data": {"name": "teo"}, "mark": {"type": "line", "color": "#db5a55", "strokeWidth": 1.2},
                     "encoding": {"x": {"field": "month", "type": "temporal", "title": null, "axis": {"values": [{"year":2005,"month":1,"date":1},{"year":2006,"month":1,"date":1},{"year":2007,"month":1,"date":1},{"year":2008,"month":1,"date":1},{"year":2009,"month":1,"date":1},{"year":2010,"month":1,"date":1},{"year":2011,"month":1,"date":1},{"year":2012,"month":1,"date":1},{"year":2013,"month":1,"date":1},{"year":2014,"month":1,"date":1},{"year":2015,"month":1,"date":1},{"year":2016,"month":1,"date":1}], "tickCount": {"interval": "year", "step": 1}, "labelOffset": 13.6, "labelOverlap": false}},
                                  "y": {"field": "value", "type": "quantitative", "title": null, "axis": {"values": [90, 95, 100, 105, 110, 115, 120, 125, 130, 135, 140], "tickCount": 11, "labelOverlap": false}}}},
                    {"data": {"name": "tek"}, "mark": {"type": "line", "color": "#2e1a1a", "strokeWidth": 1.2},
                     "encoding": {"x": {"field": "month", "type": "temporal", "title": null, "axis": {"values": [{"year":2005,"month":1,"date":1},{"year":2006,"month":1,"date":1},{"year":2007,"month":1,"date":1},{"year":2008,"month":1,"date":1},{"year":2009,"month":1,"date":1},{"year":2010,"month":1,"date":1},{"year":2011,"month":1,"date":1},{"year":2012,"month":1,"date":1},{"year":2013,"month":1,"date":1},{"year":2014,"month":1,"date":1},{"year":2015,"month":1,"date":1},{"year":2016,"month":1,"date":1}], "tickCount": {"interval": "year", "step": 1}, "labelOffset": 13.6, "labelOverlap": false}},
                                  "y": {"field": "value", "type": "quantitative", "title": null, "axis": {"values": [90, 95, 100, 105, 110, 115, 120, 125, 130, 135, 140], "tickCount": 11, "labelOverlap": false}}}},
                    {"data": {"name": "uus"}, "mark": {"type": "line", "color": "#24549f", "strokeWidth": 2},
                     "encoding": {"x": {"field": "month", "type": "temporal", "title": null, "axis": {"values": [{"year":2005,"month":1,"date":1},{"year":2006,"month":1,"date":1},{"year":2007,"month":1,"date":1},{"year":2008,"month":1,"date":1},{"year":2009,"month":1,"date":1},{"year":2010,"month":1,"date":1},{"year":2011,"month":1,"date":1},{"year":2012,"month":1,"date":1},{"year":2013,"month":1,"date":1},{"year":2014,"month":1,"date":1},{"year":2015,"month":1,"date":1},{"year":2016,"month":1,"date":1}], "tickCount": {"interval": "year", "step": 1}, "labelOffset": 13.6, "labelOverlap": false}},
                                  "y": {"field": "value", "type": "quantitative", "title": null, "axis": {"values": [90, 95, 100, 105, 110, 115, 120, 125, 130, 135, 140], "tickCount": 11, "labelOverlap": false}}}}
                  ]
                }
              ]
            }
          ]
        },
        {
          "spacing": 0,
          "hconcat": [
            {"width": 1, "height": 1, "data": {"values": []}, "mark": {"type": "point"}},
            {
              "title": {"text": ["Kausipuhdistetut liikevaihtokuvaajat, viimeisin tieto 12/2015,", "Lähde: Macrobond, Tilastokeskus"], "orient": "bottom", "anchor": "start", "font": "Lato", "fontSize": 13.5, "fontWeight": "normal", "color": "#1d3461", "baseline": "alphabetic", "offset": 48, "lineHeight": 17},
              "vconcat": [
                {
                  "width": 316, "height": 283,
                  "title": {"text": "Varsinais-Suomi", "anchor": "start", "font": "Lato", "fontSize": 17, "fontWeight": "normal", "color": "#1d3a6b", "baseline": "alphabetic", "offset": -9},
                  "layer": [
                    {"data": {"values": [{}]}, "mark": {"type": "rect", "filled": false, "stroke": "#1f3a68", "strokeWidth": 2.5},
                     "encoding": {"x": {"datum": {"year": 2003, "month": 12, "date": 20}, "type": "temporal", "title": null,
                                        "scale": {"domain": [{"year": 2005, "month": 1, "date": 1}, {"year": 2016, "month": 9, "date": 24}]}},
                                  "x2": {"datum": {"year": 2019, "month": 6, "date": 27}},
                                  "y": {"datum": 168.47, "type": "quantitative", "title": null, "scale": {"domain": [67.8, 163], "nice": false, "zero": false}},
                                  "y2": {"datum": 62.18}}},
                    {"data": {"values": [{"label": "Indeksi 2005=100"}]}, "layer": [
                      {"mark": {"type": "rect", "fill": "white", "stroke": "#cfdde6", "strokeWidth": 1},
                       "encoding": {"x": {"datum": {"year": 2005, "month": 1, "date": 1}, "type": "temporal", "title": null}, "x2": {"datum": {"year": 2007, "month": 3, "date": 14}}, "y": {"datum": 161.55, "type": "quantitative", "title": null}, "y2": {"datum": 156.84}}},
                      {"mark": {"type": "text", "align": "left", "baseline": "middle", "dx": 3, "fontSize": 6.5, "fontWeight": "bold", "color": "#2b4a70"},
                       "encoding": {"x": {"datum": {"year": 2005, "month": 1, "date": 1}, "type": "temporal", "title": null}, "y": {"datum": 159.2, "type": "quantitative", "title": null}, "text": {"field": "label"}}}
                    ]},
                    {"data": {"values": [{"label": "Muutos: 1-12,2015 / 1-12,2014, %"}]}, "layer": [
                      {"mark": {"type": "rect", "fill": "white", "stroke": "#cfdde6", "strokeWidth": 1},
                       "encoding": {"x": {"datum": {"year": 2012, "month": 12, "date": 8}, "type": "temporal", "title": null}, "x2": {"datum": {"year": 2016, "month": 9, "date": 20}}, "y": {"datum": 161.55, "type": "quantitative", "title": null}, "y2": {"datum": 156.84}}},
                      {"mark": {"type": "text", "align": "left", "baseline": "middle", "dx": 2.5, "fontSize": 6.5, "fontWeight": "bold", "color": "#2b4a70"},
                       "encoding": {"x": {"datum": {"year": 2012, "month": 12, "date": 8}, "type": "temporal", "title": null}, "y": {"datum": 159.2, "type": "quantitative", "title": null}, "text": {"field": "label"}}}
                    ]},
                    {"data": {"values": [{"label": "Teknologiateollisuus,\nkoko maa\n-1 %"}]}, "layer": [
                      {"mark": {"type": "rect", "fill": "white", "stroke": "#d5e2ea", "strokeWidth": 1},
                       "encoding": {"x": {"datum": {"year": 2016, "month": 10, "date": 9}, "type": "temporal", "title": null}, "x2": {"datum": {"year": 2019, "month": 6, "date": 10}}, "y": {"datum": 116.24, "type": "quantitative", "title": null}, "y2": {"datum": 102.55}}},
                      {"mark": {"type": "text", "align": "left", "baseline": "alphabetic", "dx": 2, "lineBreak": "\n", "lineHeight": 12.3, "fontSize": 6.8, "fontWeight": "bold", "color": "#2b1c1c"},
                       "encoding": {"x": {"datum": {"year": 2016, "month": 10, "date": 9}, "type": "temporal", "title": null}, "y": {"datum": 113.21, "type": "quantitative", "title": null}, "text": {"field": "label"}}}
                    ]},
                    {"data": {"values": [{"label": "Teollisuus,\nkoko maa\n-4 %"}]}, "layer": [
                      {"mark": {"type": "rect", "fill": "white", "stroke": "#d5e2ea", "strokeWidth": 1},
                       "encoding": {"x": {"datum": {"year": 2016, "month": 10, "date": 9}, "type": "temporal", "title": null}, "x2": {"datum": {"year": 2018, "month": 4, "date": 6}}, "y": {"datum": 101.97, "type": "quantitative", "title": null}, "y2": {"datum": 88.18}}},
                      {"mark": {"type": "text", "align": "left", "baseline": "alphabetic", "dx": 2, "lineBreak": "\n", "lineHeight": 12.3, "fontSize": 6.8, "fontWeight": "bold", "color": "#d9534f"},
                       "encoding": {"x": {"datum": {"year": 2016, "month": 10, "date": 9}, "type": "temporal", "title": null}, "y": {"datum": 98.61, "type": "quantitative", "title": null}, "text": {"field": "label"}}}
                    ]},
                    {"data": {"values": [{"label": "Varsinais-Suomi\n1 %"}]}, "layer": [
                      {"mark": {"type": "rect", "fill": "white", "stroke": "#d5e2ea", "strokeWidth": 1},
                       "encoding": {"x": {"datum": {"year": 2016, "month": 10, "date": 9}, "type": "temporal", "title": null}, "x2": {"datum": {"year": 2018, "month": 12, "date": 5}}, "y": {"datum": 81.25, "type": "quantitative", "title": null}, "y2": {"datum": 71.7}}},
                      {"mark": {"type": "text", "align": "left", "baseline": "alphabetic", "dx": 2, "lineBreak": "\n", "lineHeight": 12.3, "fontSize": 6.8, "fontWeight": "bold", "color": "#2a5a9e"},
                       "encoding": {"x": {"datum": {"year": 2016, "month": 10, "date": 9}, "type": "temporal", "title": null}, "y": {"datum": 77.89, "type": "quantitative", "title": null}, "text": {"field": "label"}}}
                    ]},
                    {"data": {"name": "teo"}, "mark": {"type": "line", "color": "#db5a55", "strokeWidth": 1.2},
                     "encoding": {"x": {"field": "month", "type": "temporal", "title": null, "axis": {"values": [{"year":2005,"month":1,"date":1},{"year":2006,"month":1,"date":1},{"year":2007,"month":1,"date":1},{"year":2008,"month":1,"date":1},{"year":2009,"month":1,"date":1},{"year":2010,"month":1,"date":1},{"year":2011,"month":1,"date":1},{"year":2012,"month":1,"date":1},{"year":2013,"month":1,"date":1},{"year":2014,"month":1,"date":1},{"year":2015,"month":1,"date":1},{"year":2016,"month":1,"date":1}], "tickCount": {"interval": "year", "step": 1}, "labelOffset": 13.5, "labelOverlap": false}},
                                  "y": {"field": "value", "type": "quantitative", "title": null, "axis": {"values": [70, 80, 90, 100, 110, 120, 130, 140, 150, 160], "tickCount": 10, "labelOverlap": false}}}},
                    {"data": {"name": "tek"}, "mark": {"type": "line", "color": "#2e1a1a", "strokeWidth": 1.2},
                     "encoding": {"x": {"field": "month", "type": "temporal", "title": null, "axis": {"values": [{"year":2005,"month":1,"date":1},{"year":2006,"month":1,"date":1},{"year":2007,"month":1,"date":1},{"year":2008,"month":1,"date":1},{"year":2009,"month":1,"date":1},{"year":2010,"month":1,"date":1},{"year":2011,"month":1,"date":1},{"year":2012,"month":1,"date":1},{"year":2013,"month":1,"date":1},{"year":2014,"month":1,"date":1},{"year":2015,"month":1,"date":1},{"year":2016,"month":1,"date":1}], "tickCount": {"interval": "year", "step": 1}, "labelOffset": 13.5, "labelOverlap": false}},
                                  "y": {"field": "value", "type": "quantitative", "title": null, "axis": {"values": [70, 80, 90, 100, 110, 120, 130, 140, 150, 160], "tickCount": 10, "labelOverlap": false}}}},
                    {"data": {"name": "vs"}, "mark": {"type": "line", "color": "#24549f", "strokeWidth": 2},
                     "encoding": {"x": {"field": "month", "type": "temporal", "title": null, "axis": {"values": [{"year":2005,"month":1,"date":1},{"year":2006,"month":1,"date":1},{"year":2007,"month":1,"date":1},{"year":2008,"month":1,"date":1},{"year":2009,"month":1,"date":1},{"year":2010,"month":1,"date":1},{"year":2011,"month":1,"date":1},{"year":2012,"month":1,"date":1},{"year":2013,"month":1,"date":1},{"year":2014,"month":1,"date":1},{"year":2015,"month":1,"date":1},{"year":2016,"month":1,"date":1}], "tickCount": {"interval": "year", "step": 1}, "labelOffset": 13.5, "labelOverlap": false}},
                                  "y": {"field": "value", "type": "quantitative", "title": null, "axis": {"values": [70, 80, 90, 100, 110, 120, 130, 140, 150, 160], "tickCount": 10, "labelOverlap": false}}}}
                  ]
                }
              ]
            }
          ]
        }
      ]
    },
    {
      "spacing": 0,
      "hconcat": [
        {"width": 1, "height": 1, "data": {"values": []}, "mark": {"type": "point"}},
        {
          "width": 860, "height": 60,
          "view": {"stroke": "#2a2a2a", "strokeWidth": 2},
          "data": {"values": [
            {"col": 0, "line": 0, "text": "TALOUDEN ARVIOINTI"},
            {"col": 0, "line": 1, "text": "ECONOMIC SURVEYS AND STATISTICS"},
            {"col": 1, "line": 0, "text": "TEKNOLOGIATEOLLISUUS RY / THE FEDERATION OF FINNISH TECHNOLOGY INDUSTRIES"},
            {"col": 1, "line": 1, "text": "ETELÄRANTA 10 P.O.BOX 10 FIN- 00131  HELSINKI  www.teknologiateollisuus.fi"}
          ]},
          "mark": {"type": "text", "align": "left", "baseline": "alphabetic", "fontSize": 11.8, "color": "#222222"},
          "encoding": {
            "x": {"field": "col", "type": "quantitative", "scale": {"domain": [-0.0305, 2.5915]}, "axis": null},
            "y": {"field": "line", "type": "quantitative", "scale": {"domain": [-1.588, 1.941], "reverse": true}, "axis": null},
            "text": {"field": "text"}
          }
        }
      ]
    }
  ]
}
